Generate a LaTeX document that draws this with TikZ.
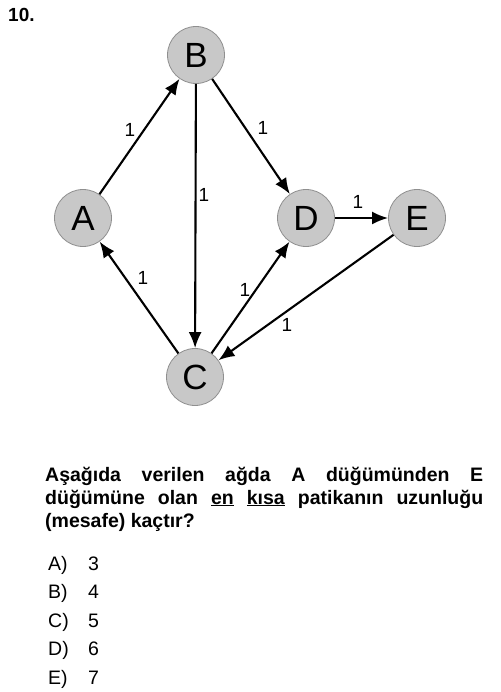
\documentclass[tikz,border=0pt]{standalone}
\usepackage{fontspec}
\setmainfont{Liberation Sans}
\usetikzlibrary{arrows.meta}
\definecolor{nodegray}{HTML}{C8C8C8}
\definecolor{rimgray}{HTML}{8F8F8F}
\def\choicetext#1#2{\makebox[40pt][l]{#1}#2}
\tikzset{
	vertex/.style={circle, fill=nodegray, draw=rimgray, line width=0.8pt, minimum size=57pt, inner sep=0pt, font=\fontsize{35}{35}\selectfont},
	edge/.style={-{Latex[length=16pt,width=13pt]}, line width=2.1pt},
	weight/.style={inner sep=0pt, font=\fontsize{19}{19}\selectfont},
	choice/.style={anchor=base west, inner sep=0pt, font=\fontsize{19.5}{19.5}\selectfont}
}

\begin{document}
\begin{tikzpicture}[x=1pt, y=-1pt]
		\useasboundingbox (0,0) rectangle (500,692);
		%%%%% START %%%%%
		\node[anchor=base west, inner sep=0pt, font=\bfseries\fontsize{19}{19}\selectfont] (num) at (8,22) {10.};
		
		\node[vertex] (B) at (196,55) {B};
		\node[vertex] (A) at (83,218) {A};
		\node[vertex] (D) at (306,218) {D};
		\node[vertex] (E) at (417,218) {E};
		\node[vertex] (C) at (195,377) {C};
		
		\draw[edge] (A) -- (B);
		\draw[edge] (B) -- (D);
		\draw[edge] (B) -- (C);
		\draw[edge] (D) -- (E);
		\draw[edge] (C) -- (A);
		\draw[edge] (C) -- (D);
		\draw[edge] (E) -- (C);
		
		\node[weight] (wAB) at (130,130) {1};
		\node[weight] (wBD) at (263,128) {1};
		\node[weight] (wBC) at (204,195) {1};
		\node[weight] (wDE) at (358,202) {1};
		\node[weight] (wCA) at (143,278) {1};
		\node[weight] (wCD) at (245,290) {1};
		\node[weight] (wEC) at (287,325) {1};
		
		\node[anchor=base west, inner sep=0pt, text width=438pt, align=justify, font=\bfseries\fontsize{19.5}{23}\selectfont] (question) at (45,481)
			{Aşağıda verilen ağda A düğümünden E\linebreak düğümüne olan \underline{en} \underline{kısa} patikanın uzunluğu\linebreak (mesafe) kaçtır?};
		
		\node[choice] (optA) at (48,570) {\choicetext{A)}{3}};
		\node[choice] (optB) at (48,598.5) {\choicetext{B)}{4}};
		\node[choice] (optC) at (48,627) {\choicetext{C)}{5}};
		\node[choice] (optD) at (48,655.5) {\choicetext{D)}{6}};
		\node[choice] (optE) at (48,684) {\choicetext{E)}{7}};
		%%%%% END %%%%%
	\end{tikzpicture}
\end{document}
